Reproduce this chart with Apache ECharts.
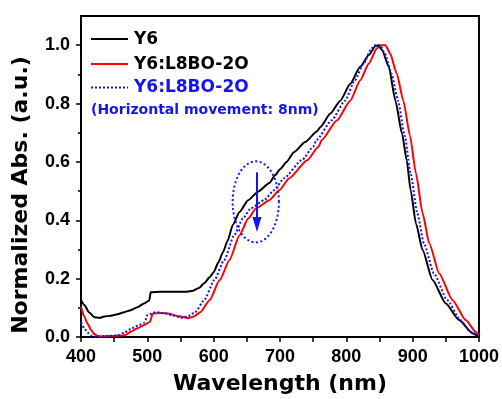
<!DOCTYPE html>
<html><head><meta charset="utf-8">
<script src="https://cdn.jsdelivr.net/npm/echarts@6/dist/echarts.min.js"></script>
<style>html,body{margin:0;padding:0;background:#fff}#c{width:502px;height:399px}</style>
</head><body><div id="c"></div>
<script>
// ---- data ----
const wlY6 = [400,405,412,420,428,435,445,455,465,475,485,495,503,505,520,540,560,568,578,586,594,600,607,614,621,629,639,652,667,684,693,700,710,721,738,756,761,776,791,806,821,834,844,848,854,864,874,884,891,897,905,915,930,950,970,990,1000];
const absY6 = [0.127,0.11,0.085,0.068,0.065,0.07,0.073,0.078,0.085,0.092,0.102,0.115,0.125,0.153,0.155,0.155,0.155,0.158,0.168,0.185,0.205,0.222,0.255,0.29,0.33,0.385,0.428,0.469,0.498,0.528,0.555,0.575,0.6,0.633,0.668,0.705,0.72,0.766,0.81,0.868,0.926,0.966,0.997,1.0,0.983,0.926,0.81,0.697,0.606,0.503,0.389,0.298,0.195,0.115,0.058,0.013,0.0];

const wlBlend = [400,405,410,415,420,427,440,455,466,475,485,496,504,508,520,533,545,556,562,570,580,594,609,624,639,652,664,684,699,714,741,758,763,786,806,821,834,846,851,859,866,876,886,896,905,915,925,940,960,980,995,1000];
const absBlend = [0.103,0.07,0.045,0.025,0.01,0.002,0.003,0.004,0.006,0.018,0.03,0.042,0.052,0.08,0.082,0.08,0.072,0.068,0.064,0.07,0.085,0.127,0.195,0.264,0.349,0.406,0.441,0.469,0.503,0.544,0.606,0.652,0.675,0.743,0.81,0.88,0.937,0.989,1.0,1.0,0.972,0.903,0.81,0.69,0.56,0.424,0.321,0.218,0.127,0.058,0.018,0.005];

const wlShift = [400,405,410,415,420,440,455,465,477,488,496,500,512,525,537,548,554,562,572,586,601,616,631,644,656,676,691,706,733,750,755,778,798,813,826,838,843,851,858,868,878,888,897,907,917,932,952,972,987,1000];
const absShift = [0.05,0.03,0.015,0.005,0.002,0.003,0.005,0.015,0.03,0.042,0.05,0.075,0.085,0.082,0.075,0.068,0.066,0.072,0.085,0.127,0.195,0.264,0.349,0.406,0.441,0.469,0.503,0.544,0.606,0.652,0.675,0.743,0.81,0.88,0.937,0.989,1.0,1.0,0.972,0.903,0.81,0.69,0.56,0.424,0.321,0.218,0.127,0.058,0.018,0.003];

const seriesNames = ['Y6','Y6:L8BO-2O','Y6:L8BO-2O'];
const noteText = '(Horizontal movement: 8nm)';
const xTitle = 'Wavelength (nm)';
const yTitle = 'Normalized Abs. (a.u.)';
const yMajorTicks = [0,0.2,0.4,0.6,0.8,1.0];
const yMinorTicks = [0.1,0.3,0.5,0.7,0.9];
// annotation (data units): ellipse centre/radii, arrow from/to
const ellipseSpec = [663.5, 0.463, 34.9, 0.139];
const arrowSpec = [665.3, 0.564, 0.360];

const BLACK = '#000000', RED = '#ff0000', BLUE = '#1414f0';
const zip = (xs, ys) => xs.map((x, i) => [x, ys[i]]);

const chart = echarts.init(document.getElementById('c'), null, {renderer: 'canvas'});
const tickFont = {fontFamily: 'Liberation Sans', fontWeight: 'bold', fontSize: 18, color: '#000'};

const option = {
  animation: false,
  grid: {left: 81, right: 22, top: 16, bottom: 62, show: true, borderColor: '#000', borderWidth: 2, backgroundColor: 'transparent'},
  xAxis: {
    type: 'value', min: 400, max: 1000, interval: 50,
    axisLine: {show: true, onZero: false, lineStyle: {color: '#000', width: 2}},
    axisTick: {show: true, inside: false, length: 5, lineStyle: {color: '#000', width: 1.5}},
    axisLabel: Object.assign({margin: 11, formatter: v => (v % 100 === 0 ? String(v) : '')}, tickFont),
    splitLine: {show: false}
  },
  yAxis: [{
    type: 'value', min: 0, max: 1.1, interval: 0.2,
    axisLine: {show: true, onZero: false, lineStyle: {color: '#000', width: 2}},
    axisTick: {show: true, inside: false, length: 5, customValues: yMajorTicks, lineStyle: {color: '#000', width: 1.5}},
    axisLabel: Object.assign({margin: 11, customValues: yMajorTicks, formatter: v => v.toFixed(1)}, tickFont),
    splitLine: {show: false}
  }, {
    type: 'value', min: 0, max: 1.1, position: 'left',
    axisLine: {show: false},
    axisTick: {show: true, inside: false, length: 3, customValues: yMinorTicks, lineStyle: {color: '#000', width: 1.5}},
    axisLabel: {show: false},
    splitLine: {show: false}
  }],
  series: [
    {name: seriesNames[0], type: 'line', data: zip(wlY6, absY6), showSymbol: false, smooth: 0.2, smoothMonotone: 'x',
     lineStyle: {color: BLACK, width: 2}, z: 3},
    {name: seriesNames[1], type: 'line', data: zip(wlBlend, absBlend), showSymbol: false, smooth: 0.2, smoothMonotone: 'x',
     lineStyle: {color: RED, width: 2}, z: 2},
    {name: seriesNames[2] + ' shifted', type: 'line', data: zip(wlShift, absShift), showSymbol: false, smooth: 0.2, smoothMonotone: 'x',
     lineStyle: {color: BLUE, width: 2, type: [2, 2]}, z: 4},
    {type: 'custom', data: [ellipseSpec], z: 5, silent: true,
     renderItem: function (params, api) {
       const cx = api.value(0), cy = api.value(1), rx = api.value(2), ry = api.value(3);
       const pts = [];
       for (let k = 0; k <= 72; k++) {
         const t = k / 72 * Math.PI * 2;
         pts.push(api.coord([cx + rx * Math.cos(t), cy + ry * Math.sin(t)]));
       }
       return {type: 'polyline', shape: {points: pts}, style: {stroke: BLUE, lineWidth: 2, lineDash: [2, 2.5], fill: null}};
     }},
    {type: 'custom', data: [arrowSpec], z: 6, silent: true,
     renderItem: function (params, api) {
       const p0 = api.coord([api.value(0), api.value(1)]);
       const p1 = api.coord([api.value(0), api.value(2)]);
       const headLen = 15, headHalf = 4.5;
       return {type: 'group', children: [
         {type: 'line', shape: {x1: p0[0], y1: p0[1], x2: p1[0], y2: p1[1] - headLen + 1}, style: {stroke: BLUE, lineWidth: 2}},
         {type: 'polygon', shape: {points: [[p1[0] - headHalf, p1[1] - headLen], [p1[0] + headHalf, p1[1] - headLen], [p1[0], p1[1]]]}, style: {fill: BLUE}}
       ]};
     }}
  ],
  graphic: [
    {type: 'line', shape: {x1: 91, y1: 39, x2: 128, y2: 39}, style: {stroke: BLACK, lineWidth: 2}},
    {type: 'line', shape: {x1: 91, y1: 64, x2: 128, y2: 64}, style: {stroke: RED, lineWidth: 2}},
    {type: 'line', shape: {x1: 91, y1: 87.5, x2: 128, y2: 87.5}, style: {stroke: BLUE, lineWidth: 2, lineDash: [2, 2]}},
    {type: 'text', x: 134, y: 40, style: {text: seriesNames[0], fill: '#000', font: 'bold 17px "DejaVu Sans"', textVerticalAlign: 'middle'}},
    {type: 'text', x: 134, y: 64.5, style: {text: seriesNames[1], fill: '#000', font: 'bold 17px "DejaVu Sans"', textVerticalAlign: 'middle'}},
    {type: 'text', x: 134, y: 88, style: {text: seriesNames[2], fill: BLUE, font: 'bold 17px "DejaVu Sans"', textVerticalAlign: 'middle'}},
    {type: 'text', x: 91, y: 110.5, style: {text: noteText, fill: BLUE, font: 'bold 14px "DejaVu Sans"', textVerticalAlign: 'middle'}},
    {type: 'text', x: 280, y: 384, style: {text: xTitle, fill: '#000', font: 'bold 22px "DejaVu Sans"', textAlign: 'center', textVerticalAlign: 'middle'}},
    {type: 'text', x: 21.5, y: 195, rotation: Math.PI / 2, style: {text: yTitle, fill: '#000', font: 'bold 22px "DejaVu Sans"', textAlign: 'center', textVerticalAlign: 'middle'}}
  ]
};
chart.setOption(option);
</script>
</body></html>
